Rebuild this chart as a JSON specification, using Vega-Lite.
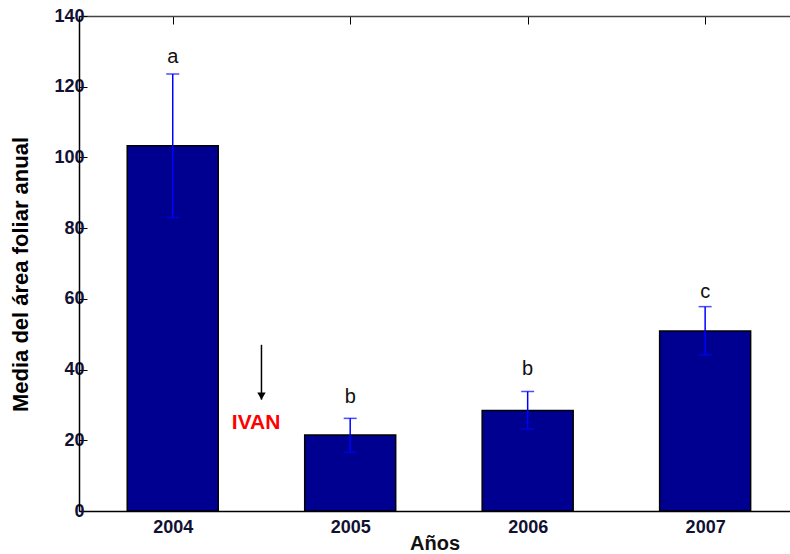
{
  "$schema": "https://vega.github.io/schema/vega-lite/v6.json",
  "autosize": {"type": "none"},
  "padding": {"left": 79, "top": 16, "right": 0, "bottom": 43},
  "width": 711,
  "height": 495,
  "background": "white",
  "config": {
    "view": {"stroke": null},
    "font": "Liberation Sans",
    "axis": {"grid": false}
  },
  "data": {
    "values": [
      {"year": 2004, "mean": 103.3, "lo": 83.0, "hi": 123.6, "letter": "a", "lettery": 128.4},
      {"year": 2005, "mean": 21.5, "lo": 16.6, "hi": 26.2, "letter": "b", "lettery": 32.2},
      {"year": 2006, "mean": 28.4, "lo": 23.2, "hi": 33.8, "letter": "b", "lettery": 40.2},
      {"year": 2007, "mean": 50.9, "lo": 44.2, "hi": 57.8, "letter": "c", "lettery": 62.0}
    ]
  },
  "resolve": {"axis": {"x": "independent"}},
  "layer": [
    {
      "mark": {"type": "bar", "size": 91, "fill": "#000090", "stroke": "#000000", "strokeWidth": 1.5},
      "encoding": {
        "x": {
          "field": "year", "type": "quantitative",
          "scale": {"domain": [2003.5, 2007.45], "nice": false, "zero": false},
          "axis": {
            "orient": "bottom", "values": [2004, 2005, 2006, 2007], "format": "d",
            "title": "Años", "titleFont": "Liberation Sans", "titleFontSize": 20, "titleFontWeight": "bold",
            "titleColor": "#111111", "titlePadding": -3,
            "labelFontSize": 18, "labelFontWeight": "bold", "labelColor": "#111133",
            "labelFlush": false, "labelPadding": 7,
            "ticks": false, "domainColor": "#000000", "domainWidth": 1.5
          }
        },
        "y": {
          "field": "mean", "type": "quantitative",
          "scale": {"domain": [0, 140], "nice": false},
          "axis": {
            "values": [0, 20, 40, 60, 80, 100, 120, 140],
            "title": "Media del área foliar anual", "titleFontSize": 22, "titleFontWeight": "bold",
            "titleColor": "#000000", "titlePadding": 21, "titleY": 258,
            "labelFontSize": 18, "labelFontWeight": "bold", "labelColor": "#111133",
            "tickSize": -8, "tickColor": "#000000", "labelPadding": 3,
            "domainColor": "#000000", "domainWidth": 1.5
          }
        }
      }
    },
    {
      "mark": {"type": "rule", "color": "#0000ff", "strokeWidth": 1.5},
      "encoding": {
        "x": {"field": "year", "type": "quantitative",
          "axis": {"orient": "top", "values": [2004, 2005, 2006, 2007], "labels": false, "title": null,
            "tickSize": -8, "tickColor": "#000000", "domainColor": "#444444", "domainWidth": 1.5}},
        "y": {"field": "lo", "type": "quantitative"},
        "y2": {"field": "hi"}
      }
    },
    {
      "mark": {"type": "tick", "color": "#0000ff", "orient": "horizontal", "size": 13, "thickness": 1.5},
      "encoding": {
        "x": {"field": "year", "type": "quantitative", "axis": null},
        "y": {"field": "hi", "type": "quantitative"}
      }
    },
    {
      "mark": {"type": "tick", "color": "#0000ff", "orient": "horizontal", "size": 13, "thickness": 1.5},
      "encoding": {
        "x": {"field": "year", "type": "quantitative", "axis": null},
        "y": {"field": "lo", "type": "quantitative"}
      }
    },
    {
      "mark": {"type": "text", "fontSize": 20, "color": "#111111", "baseline": "middle", "dy": 0},
      "encoding": {
        "x": {"field": "year", "type": "quantitative", "axis": null},
        "y": {"field": "lettery", "type": "quantitative"},
        "text": {"field": "letter"}
      }
    },
    {
      "data": {"values": [{"x": 2004.5, "y1": 47, "y2": 31.5}]},
      "mark": {"type": "rule", "color": "#000000", "strokeWidth": 1.5},
      "encoding": {
        "x": {"field": "x", "type": "quantitative", "axis": null},
        "y": {"field": "y1", "type": "quantitative"},
        "y2": {"field": "y2"}
      }
    },
    {
      "data": {"values": [{"x": 2004.5, "y": 32.5}]},
      "mark": {"type": "point", "shape": "triangle-down", "filled": true, "color": "#000000", "size": 70, "opacity": 1},
      "encoding": {
        "x": {"field": "x", "type": "quantitative", "axis": null},
        "y": {"field": "y", "type": "quantitative"}
      }
    },
    {
      "data": {"values": [{"x": 2004.47, "y": 24.9, "label": "IVAN"}]},
      "mark": {"type": "text", "fontSize": 21, "fontWeight": "bold", "color": "#ff0000", "baseline": "middle"},
      "encoding": {
        "x": {"field": "x", "type": "quantitative", "axis": null},
        "y": {"field": "y", "type": "quantitative"},
        "text": {"field": "label"}
      }
    }
  ]
}
